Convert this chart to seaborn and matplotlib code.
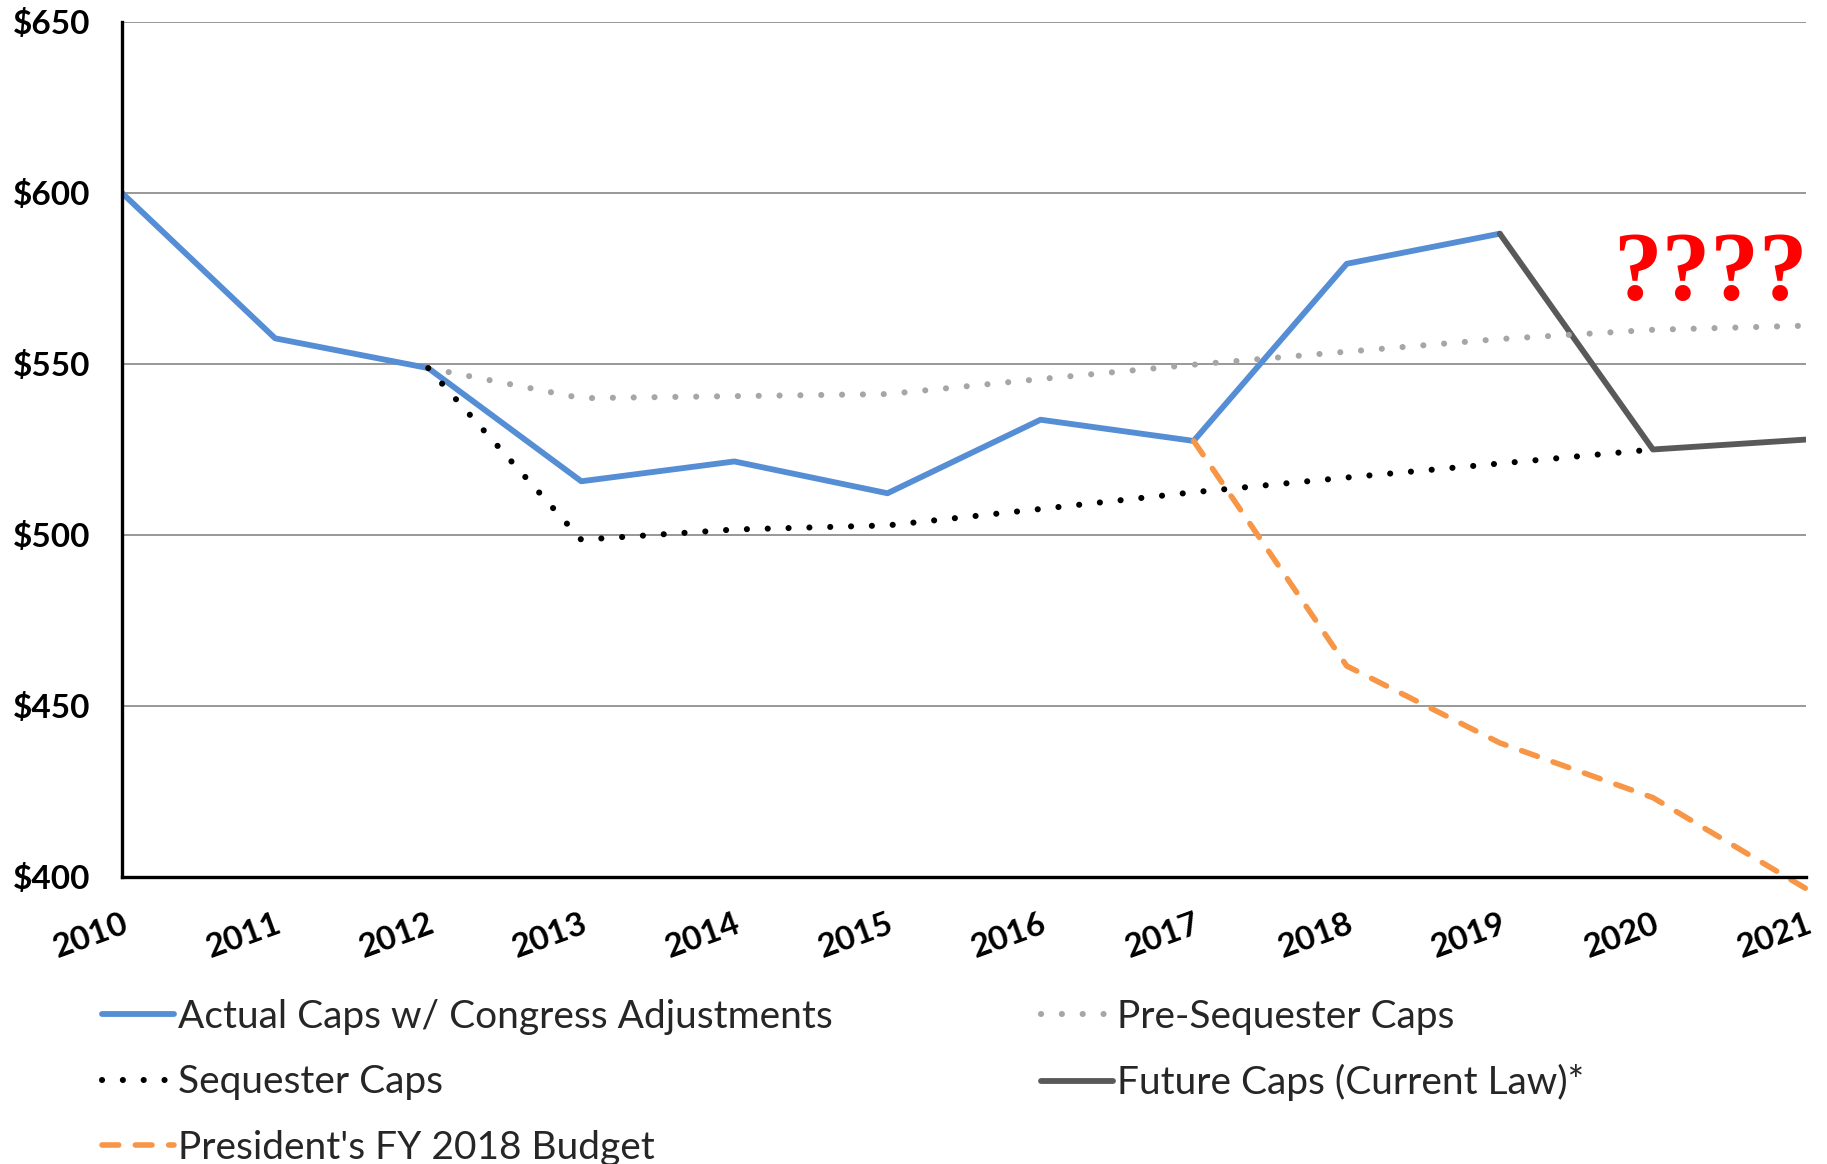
import pandas as pd
import matplotlib
matplotlib.use('Agg')
import matplotlib.pyplot as plt
import seaborn as sns

years = list(range(2010, 2022))

# budget caps, $ billions
actual_years = [2010, 2011, 2012, 2013, 2014, 2015, 2016, 2017, 2018, 2019]
actual_caps = [600.0, 557.5, 548.8, 515.7, 521.5, 512.2, 533.7, 527.5, 579.3, 588.1]

future_years = [2019, 2020, 2021]
future_caps = [588.1, 525.0, 527.9]

pre_seq_years = [2012, 2013, 2014, 2015, 2016, 2017, 2018, 2019, 2020, 2021]
pre_seq_caps = [548.8, 540.0, 540.6, 541.2, 545.6, 549.8, 553.6, 557.3, 560.0, 561.2]

seq_years = [2012, 2013, 2014, 2015, 2016, 2017, 2018, 2019, 2020]
seq_caps = [548.8, 498.6, 501.6, 502.8, 507.6, 512.5, 516.8, 520.9, 525.0]

pres_years = [2017, 2018, 2019, 2020, 2021]
pres_caps = [527.5, 461.7, 439.2, 423.2, 396.6]

y_ticks = [400, 450, 500, 550, 600, 650]
y_tick_labels = ['$400', '$450', '$500', '$550', '$600', '$650']

sns.set_style('white')
plt.rcParams['font.family'] = ['Lato', 'DejaVu Sans']

fig = plt.figure(figsize=(18.27, 11.64), dpi=100)
ax = fig.add_axes([0.0668, 0.2466, 0.9217, 0.7345])

for yv in y_ticks[1:]:
    ax.axhline(yv, color='#868686', linewidth=1.2, zorder=1)

dot = (0, (0.01, 3.4))
sns.lineplot(x=actual_years, y=actual_caps, color='#558ED5', linewidth=4.2,
             ax=ax, label='Actual Caps w/ Congress Adjustments', zorder=3)
sns.lineplot(x=future_years, y=future_caps, color='#595959', linewidth=4.2,
             ax=ax, label='Future Caps (Current Law)*', zorder=3)
sns.lineplot(x=pre_seq_years, y=pre_seq_caps, color='#A6A6A6', linewidth=4.4,
             linestyle=dot, dash_capstyle='round',
             ax=ax, label='Pre-Sequester Caps', zorder=4)
sns.lineplot(x=seq_years, y=seq_caps, color='black', linewidth=4.4,
             linestyle=dot, dash_capstyle='round',
             ax=ax, label='Sequester Caps', zorder=4)
sns.lineplot(x=pres_years, y=pres_caps, color='#F79646', linewidth=4.0,
             linestyle=(0, (3.0, 3.0)), dash_capstyle='round',
             ax=ax, label="President's FY 2018 Budget", zorder=5, clip_on=False)

ax.set_xlim(2010, 2021)
ax.set_ylim(400, 650)
ax.set_xticks(years)
ax.set_xticklabels([str(y) for y in years], rotation=20, ha='right',
                   rotation_mode='anchor', fontsize=24, fontweight='bold')
ax.set_yticks(y_ticks)
ax.set_yticklabels(y_tick_labels, fontsize=24, fontweight='bold')
ax.tick_params(axis='x', direction='out', length=9, width=2.2, pad=14, colors='black')
ax.tick_params(axis='y', direction='out', length=9, width=2.2, pad=14, colors='black')
ax.set_xlabel('')
ax.set_ylabel('')
for side in ['top', 'right']:
    ax.spines[side].set_visible(False)
for side in ['left', 'bottom']:
    ax.spines[side].set_color('black')
    ax.spines[side].set_linewidth(2.4)
    ax.spines[side].set_zorder(6)

ax.text(0.943, 0.703, '????', transform=ax.transAxes, color='red',
        fontsize=70, fontweight='bold', family='Liberation Serif',
        ha='center', va='center')

handles, labels = ax.get_legend_handles_labels()
order = ['Actual Caps w/ Congress Adjustments', 'Sequester Caps',
         "President's FY 2018 Budget", 'Pre-Sequester Caps',
         'Future Caps (Current Law)*']
hmap = dict(zip(labels, handles))
ax.get_legend().remove()
fig.legend([hmap[l] for l in order], order, ncol=2, frameon=False,
           loc='upper left', bbox_to_anchor=(0.0561, 0.142),
           borderpad=0, borderaxespad=0,
           fontsize=28, handlelength=1.85, handletextpad=0.1,
           columnspacing=5.35, labelspacing=0.76)

fig.savefig('out.png', dpi=100)
